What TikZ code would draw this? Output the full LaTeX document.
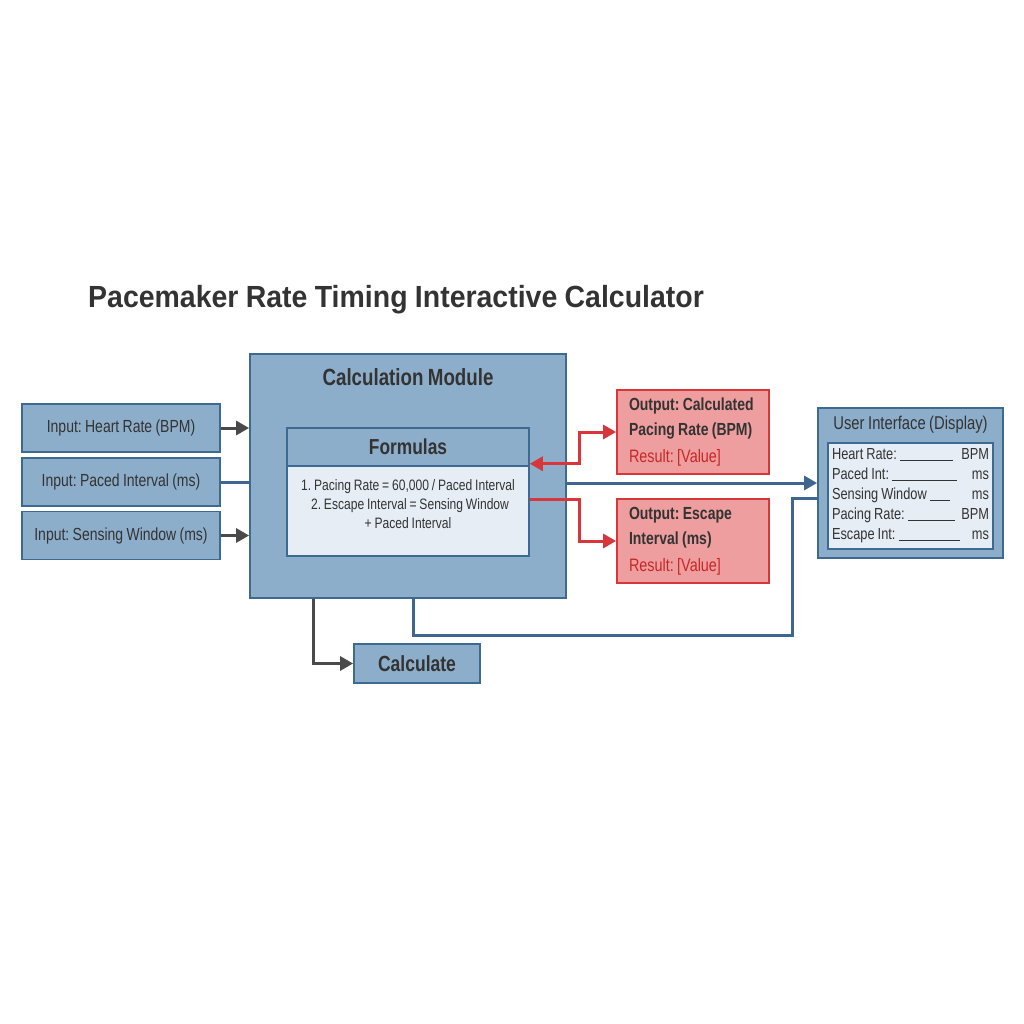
\documentclass[tikz,border=0pt]{standalone}
\usepackage{fontspec}
\setmainfont{Liberation Sans}[FakeStretch=0.8,WordSpace=0.85]
\newfontfamily\titlefont{Liberation Sans}[FakeStretch=0.93,WordSpace=0.93]
\frenchspacing
\usepackage{tikz}
\usetikzlibrary{arrows.meta}

\definecolor{boxblue}{HTML}{8DAECA}
\definecolor{edgeblue}{HTML}{3E6A92}
\definecolor{paleblue}{HTML}{E6EDF5}
\definecolor{boxred}{HTML}{EE9E9E}
\definecolor{edgered}{HTML}{D8363B}
\definecolor{textred}{HTML}{C62828}
\definecolor{inkgray}{HTML}{333333}
\definecolor{arrowgray}{HTML}{4A4A4A}
\definecolor{lineblue}{HTML}{3D6791}

\begin{document}
\begin{tikzpicture}[x=1pt,y=-1pt,
    >={Triangle[length=13pt,width=14pt]},
    every node/.style={execute at begin node={\spaceskip=0pt\xspaceskip=0pt}},
    box/.style={draw=edgeblue,line width=1.8pt,fill=boxblue,text=inkgray,inner sep=0pt},
    inbox/.style={box,minimum width=198pt,minimum height=48pt,font=\fontsize{17.5}{20}\selectfont},
    outbox/.style={draw=edgered,line width=1.8pt,fill=boxred,text=inkgray,minimum width=152pt,
        minimum height=84pt,text width=134pt,inner xsep=9pt,inner ysep=0pt,align=left,
        font=\fontsize{17.5}{25}\selectfont\bfseries},
    grayline/.style={draw=arrowgray,line width=3pt},
    blueline/.style={draw=lineblue,line width=3pt},
    redline/.style={draw=edgered,line width=3pt}]

    \useasboundingbox[fill=white] (0,0) rectangle (1024,1024);

    % title
    \node[anchor=base west,inner sep=0pt,text=inkgray,
        font=\titlefont\bfseries\fontsize{30.6}{34}\selectfont] (title) at (88,307)
        {Pacemaker Rate Timing Interactive Calculator};

    % inputs
    \node[inbox] (inHR) at (121,428) {Input: Heart Rate (BPM)};
    \node[inbox] (inPI) at (121,482) {Input: Paced Interval (ms)};
    \node[inbox] (inSW) at (121,535.5) {Input: Sensing Window (ms)};

    % calculation module
    \node[box,minimum width=316pt,minimum height=244pt] (calc) at (408,476) {};
    \node[text=inkgray,font=\fontsize{23.4}{26}\selectfont\bfseries] (calchead) at (408,377) {Calculation Module};
    \node[box,fill=paleblue,line width=1.5pt,minimum width=242pt,minimum height=90pt] (fbody) at (408,511) {};
    \node[box,line width=1.5pt,minimum width=242pt,minimum height=38pt,
        font=\fontsize{21.7}{24}\selectfont\bfseries] (fhead) at (408,447) {Formulas};
    \node[align=center,text=inkgray,font=\fontsize{15.1}{19}\selectfont] (ftext) at (408,504)
        {1. Pacing Rate = 60,000 / Paced Interval\\
         \hspace*{4pt}2. Escape Interval = Sensing Window\\
         + Paced Interval};

    % outputs
    \node[outbox] (outRate) at (693,432)
        {\hspace*{3pt}Output: Calculated\\\hspace*{3pt}Pacing Rate (BPM)\\[2pt]\hspace*{3pt}{\mdseries\fontsize{18}{25}\selectfont\color{textred}Result: [Value]}};
    \node[outbox] (outEsc) at (693,541)
        {\hspace*{3pt}Output: Escape\\\hspace*{3pt}Interval (ms)\\[2pt]\hspace*{3pt}{\mdseries\fontsize{18}{25}\selectfont\color{textred}Result: [Value]}};

    % display
    \node[box,minimum width=185pt,minimum height=150pt] (ui) at (910.5,483) {};
    \node[text=inkgray,font=\fontsize{18.5}{21}\selectfont] (uihead) at (910.5,425) {User Interface (Display)};
    \node[box,fill=paleblue,line width=1.5pt,minimum width=165pt,minimum height=106pt,
        text width=157pt,inner xsep=4pt,align=left,font=\fontsize{16}{20}\selectfont] (uipanel) at (910.5,496)
        {Heart Rate: \rule[-1pt]{53pt}{1pt}\hfill BPM\\
         Paced Int: \rule[-1pt]{65pt}{1pt}\hfill ms\\
         Sensing Window \rule[-1pt]{20pt}{1pt}\hfill ms\\
         Pacing Rate: \rule[-1pt]{47pt}{1pt}\hfill BPM\\
         Escape Int: \rule[-1pt]{61pt}{1pt}\hfill ms};

    % button
    \node[box,minimum width=126pt,minimum height=39pt,
        font=\fontsize{21.9}{24}\selectfont\bfseries] (calcbtn) at (417,663.5) {Calculate};

    % connectors
    \draw[grayline,->] (inHR.east) -- (inHR.east -| calc.west);
    \draw[blueline] (inPI.east) -- (inPI.east -| calc.west);
    \draw[grayline,->] (inSW.east) -- (inSW.east -| calc.west);

    \draw[redline,<->] ([yshift=3pt]fhead.south east) -- ++(50,0) |- (outRate.west);
    \draw[redline,->] ([yshift=12pt]fbody.east) -- ++(50,0) |- (outEsc.west);

    \draw[blueline,->] (calc.east |- ui.west) -- (ui.west);
    \coordinate (loop) at (792,635);
    \draw[blueline] ([xshift=5pt]calc.south) |- (loop) |- ([yshift=-15pt]ui.west);

    \draw[grayline,->] ([xshift=-95pt]calc.south) |- (calcbtn.west);
\end{tikzpicture}
\end{document}
